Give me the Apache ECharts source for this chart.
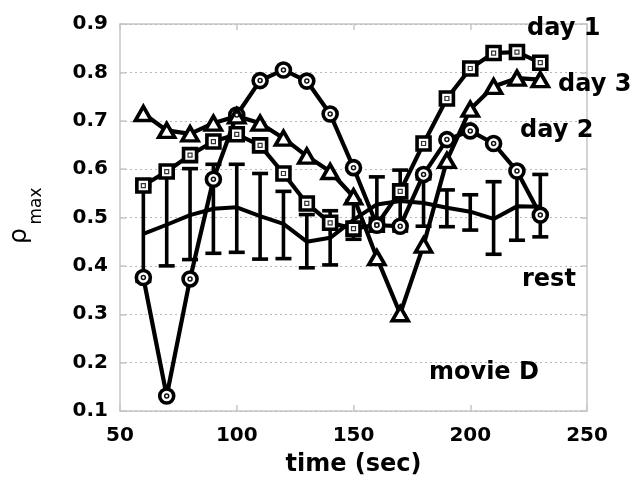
<!DOCTYPE html>
<html>
<head>
<meta charset="utf-8">
<script src="https://cdn.jsdelivr.net/npm/echarts@6/dist/echarts.min.js"></script>
<style>html,body{margin:0;padding:0;background:#fff;}#c{width:639px;height:482px;}</style>
</head>
<body>
<div id="c"></div>
<script>
var times = [60,70,80,90,100,110,120,130,140,150,160,170,180,190,200,210,220,230];
var day1 = [0.566,0.595,0.629,0.657,0.672,0.649,0.591,0.529,0.489,0.477,0.485,0.554,0.653,0.746,0.808,0.840,0.842,0.820];
var day2 = [0.376,0.131,0.373,0.579,0.712,0.783,0.805,0.782,0.714,0.603,0.484,0.482,0.589,0.661,0.679,0.653,0.596,0.505];
var day3 = [0.715,0.680,0.673,0.695,0.710,0.695,0.664,0.627,0.595,0.543,0.417,0.301,0.443,0.618,0.724,0.771,0.788,0.785];
var restMean = [0.466,0.485,0.505,0.518,0.521,0.503,0.487,0.450,0.458,0.495,0.527,0.534,0.530,0.520,0.512,0.497,0.523,0.522];
var restHi = [0.566,0.585,0.601,0.610,0.610,0.591,0.554,0.506,0.514,0.535,0.584,0.598,0.580,0.557,0.547,0.574,0.593,0.589];
var restLo = [0.368,0.400,0.413,0.426,0.428,0.414,0.415,0.396,0.402,0.455,0.472,0.472,0.482,0.481,0.474,0.424,0.453,0.460];
var xTicks = {min:50, max:250, interval:50};
var yTicks = {min:0.1, max:0.9, interval:0.1};
var labels = [
  {text:'day 1', x:527, y:29},
  {text:'day 3', x:558, y:85},
  {text:'day 2', x:520, y:131},
  {text:'rest', x:522, y:280},
  {text:'movie D', x:429, y:373}
];

function pairs(arr){ return times.map(function(t,i){ return [t, arr[i]]; }); }
var FONT = 'DejaVu Sans';
var GRAY = '#c6c6c6';

var chart = echarts.init(document.getElementById('c'), null, {renderer:'canvas'});
var noLine = {show:false};
var tick = {show:true, inside:true, length:6, lineStyle:{color:GRAY, width:1.5}};
var option = {
  animation:false,
  backgroundColor:'#fff',
  grid:{left:120, top:24, right:52, bottom:66, show:true, borderColor:GRAY, borderWidth:1.5, backgroundColor:'rgba(0,0,0,0)'},
  xAxis:[{
    type:'value', min:xTicks.min, max:xTicks.max, interval:xTicks.interval, position:'bottom',
    axisLine:noLine, axisTick:tick, splitLine:{show:false},
    axisLabel:{color:'#000', fontFamily:FONT, fontWeight:'bold', fontSize:20, margin:15},
    name:'time (sec)', nameLocation:'middle', nameGap:42,
    nameTextStyle:{color:'#000', fontFamily:FONT, fontWeight:'bold', fontSize:24}
  },{
    type:'value', min:xTicks.min, max:xTicks.max, interval:xTicks.interval, position:'top',
    axisLine:noLine, axisTick:tick, splitLine:{show:false}, axisLabel:{show:false}
  }],
  yAxis:[{
    type:'value', min:yTicks.min, max:yTicks.max, interval:yTicks.interval, position:'left',
    axisLine:noLine, axisTick:tick,
    splitLine:{show:true, lineStyle:{color:'#b8b8b8', type:[2,3], width:1}},
    axisLabel:{color:'#000', fontFamily:FONT, fontWeight:'bold', fontSize:20, margin:12,
      formatter:function(v){ return v.toFixed(1); }}
  },{
    type:'value', min:yTicks.min, max:yTicks.max, interval:yTicks.interval, position:'right',
    axisLine:noLine, axisTick:tick,
    splitLine:{show:false}, axisLabel:{show:false}
  }],
  graphic: labels.map(function(l){
    return {type:'text', x:l.x, y:l.y, z:100, style:{text:l.text, fill:'#000', fontFamily:FONT, fontWeight:'bold', fontSize:24, align:'left', verticalAlign:'middle'}};
  }).concat([
    {type:'text', x:19, y:236, rotation:Math.PI/2, style:{text:'ρ', fill:'#000', fontFamily:FONT, fontSize:25, align:'center', verticalAlign:'middle'}},
    {type:'text', x:37, y:206, rotation:Math.PI/2, style:{text:'max', fill:'#000', fontFamily:FONT, fontSize:17, align:'center', verticalAlign:'middle'}}
  ]),
  series:[
    {
      type:'custom', xAxisIndex:0, yAxisIndex:0, z:1, silent:true,
      data: times.map(function(t,i){ return [t, restLo[i], restHi[i]]; }),
      encode:{x:0, y:[1,2]},
      renderItem:function(params, api){
        var x = api.value(0);
        var pH = api.coord([x, api.value(2)]);
        var pL = api.coord([x, api.value(1)]);
        var w = 8;
        var st = {stroke:'#000', lineWidth:3.6};
        return {type:'group', children:[
          {type:'line', shape:{x1:pH[0], y1:pH[1], x2:pL[0], y2:pL[1]}, style:st},
          {type:'line', shape:{x1:pH[0]-w, y1:pH[1], x2:pH[0]+w, y2:pH[1]}, style:st},
          {type:'line', shape:{x1:pL[0]-w, y1:pL[1], x2:pL[0]+w, y2:pL[1]}, style:st}
        ]};
      }
    },
    {type:'line', name:'rest', z:2, data:pairs(restMean), symbol:'none', lineStyle:{color:'#000', width:4}},
    {type:'line', name:'day 1', z:3, data:pairs(day1), symbol:'rect', symbolSize:13,
      lineStyle:{color:'#000', width:4.2}, itemStyle:{color:'#fff', borderColor:'#000', borderWidth:3.6}},
    {type:'line', name:'day 2', z:3, data:pairs(day2), symbol:'circle', symbolSize:14,
      lineStyle:{color:'#000', width:4.2}, itemStyle:{color:'#fff', borderColor:'#000', borderWidth:3.6}},
    {type:'line', name:'day 3', z:3, data:pairs(day3), symbol:'triangle', symbolSize:[16,14],
      lineStyle:{color:'#000', width:4.2}, itemStyle:{color:'#fff', borderColor:'#000', borderWidth:3.6}},
    {type:'scatter', z:4, silent:true, data:pairs(day1), symbol:'rect', symbolSize:4,
      itemStyle:{color:'#fff', borderColor:'#333', borderWidth:1.2, opacity:1}},
    {type:'scatter', z:4, silent:true, data:pairs(day2), symbol:'circle', symbolSize:4,
      itemStyle:{color:'#fff', borderColor:'#111', borderWidth:1.5, opacity:1}}
  ]
};
chart.setOption(option);
</script>
</body>
</html>
